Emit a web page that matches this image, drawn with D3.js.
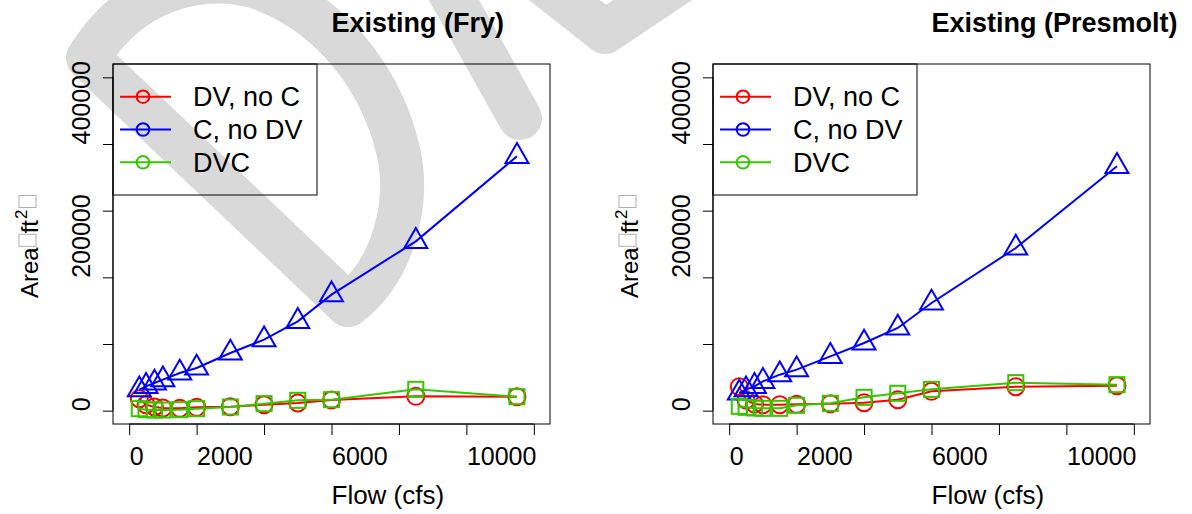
<!DOCTYPE html>
<html>
<head>
<meta charset="utf-8">
<script src="https://cdn.jsdelivr.net/npm/d3@7"></script>
<style>
 body { margin: 0; background: #fff; }
 svg { display: block; font-family: "Liberation Sans", Arial, sans-serif; }
</style>
</head>
<body>
<svg></svg>
<script>
//размер svg
const width = 1192;
const height = 514;

// данные: расход и площадь
const flows = [300, 500, 750, 1000, 1500, 2000, 3000, 4000, 5000, 6000, 8500, 11500];
const fryDVnoC = [18000, 9000, 5500, 4000, 3500, 5000, 6000, 9000, 11500, 16000, 21500, 21000];
const fryCnoDV = [31500, 36500, 41500, 46500, 56500, 64000, 86500, 106500, 134000, 174000, 254000, 381500];
const fryDVC = [3000, 1500, 1000, 1000, 1500, 3000, 5500, 10500, 15500, 16500, 32000, 21000];
const presDVnoC = [36000, 16000, 10000, 9000, 9000, 9500, 10500, 12000, 16500, 29000, 36000, 37500];
const presCnoDV = [26500, 31500, 36500, 44000, 54000, 61500, 81500, 101500, 124000, 161500, 244000, 366500];
const presDVC = [6500, 5000, 4000, 3500, 3500, 8000, 11000, 20000, 26000, 32000, 42000, 39000];

const panelTitles = ["Existing (Fry)", "Existing (Presmolt)"];
const seriesNames = ["DV, no C", "C, no DV", "DVC"];
const seriesColors = ["#ff0000", "#0000ff", "#33c800"];
const seriesSymbols = ["circle", "triangle", "square"];
const xTicks = [0, 2000, 4000, 6000, 8000, 10000, 12000];
const xTickLabels = ["0", "2000", "", "6000", "", "10000", ""];
const yTicks = [0, 100000, 200000, 300000, 400000, 500000];
const yTickLabels = ["0", "", "200000", "", "400000", ""];

let svg = d3.select("svg")
 .attr("width", width)
 .attr("height", height);

// водяной знак (серые полосы)
let mark = svg.append("g")
 .style("fill", "none")
 .style("stroke", "#d9d9d9")
 .style("stroke-width", 44)
 .style("stroke-linecap", "round")
 .style("stroke-linejoin", "round");
// буква D
mark.append("path")
 .attr("d", "M 88,58 L 348,305 C 395,270 410,200 398,150 C 385,95 345,20 260,-12 C 200,-30 130,-10 88,58 Z");
// остальные куски
mark.append("path").attr("d", "M 440,-25 L 520,118");
mark.append("path").attr("d", "M 520,-35 L 605,32 L 690,-25");

// рисуем одну панель
function drawPanel(offset, title, seriesData) {
 let left = 113 + offset, right = 550 + offset;
 let top = 64, bottom = 424;
 let x = d3.scaleLinear().domain([-480, 12480]).range([left, right]);
 let y = d3.scaleLinear().domain([-20000, 520000]).range([bottom, top]);

 let panel = svg.append("g");

 // серии: линия + символы
 seriesData.forEach((vals, k) => {
  let pts = flows.map((f, i) => ({x: x(f), y: y(vals[i])}));
  let line = d3.line().x(d => d.x).y(d => d.y);
  panel.append("path")
   .attr("d", line(pts))
   .style("fill", "none")
   .style("stroke", seriesColors[k])
   .style("stroke-width", 2);
  let g = panel.append("g")
   .style("fill", "none")
   .style("stroke", seriesColors[k])
   .style("stroke-width", 2);
  const s = 8.5;
  pts.forEach(p => {
   if (seriesSymbols[k] == "circle") {
    g.append("circle").attr("cx", p.x).attr("cy", p.y).attr("r", s);
   } else if (seriesSymbols[k] == "square") {
    let h = 0.886 * s;
    g.append("rect").attr("x", p.x - h).attr("y", p.y - h)
     .attr("width", 2 * h).attr("height", 2 * h);
   } else {
    let r = 1.555 * s, yc = 0.778 * s, xc = 1.347 * s;
    g.append("path")
     .attr("d", `M ${p.x},${p.y - r} L ${p.x + xc},${p.y + yc} L ${p.x - xc},${p.y + yc} Z`);
   }
  });
 });

 // рамка
 panel.append("rect")
  .attr("x", left).attr("y", top)
  .attr("width", right - left).attr("height", bottom - top)
  .style("fill", "none").style("stroke", "black").style("stroke-width", 1);

 // ось x
 let xAxis = panel.append("g")
  .attr("transform", `translate(0,${bottom})`)
  .call(d3.axisBottom(x).tickValues(xTicks).tickSize(11).tickSizeOuter(0)
   .tickFormat((d, i) => xTickLabels[i]));
 xAxis.select(".domain").remove();
 xAxis.append("line")
  .attr("x1", x(xTicks[0])).attr("x2", x(xTicks[xTicks.length - 1]))
  .style("stroke", "black");
 xAxis.selectAll("text")
  .attr("y", 41).attr("dy", null)
  .attr("text-anchor", "start")
  .style("font-size", "25px").style("fill", "black")
  .style("font-family", "Liberation Sans, Arial, sans-serif");

 // ось y
 let yAxis = panel.append("g")
  .attr("transform", `translate(${left},0)`)
  .call(d3.axisLeft(y).tickValues(yTicks).tickSize(10).tickSizeOuter(0)
   .tickFormat((d, i) => yTickLabels[i]));
 yAxis.select(".domain").remove();
 yAxis.append("line")
  .attr("y1", y(yTicks[0])).attr("y2", y(yTicks[yTicks.length - 1]))
  .style("stroke", "black");
 yAxis.selectAll("text")
  .attr("x", 0).attr("dy", null)
  .attr("transform", "translate(-23,0) rotate(-90)")
  .attr("text-anchor", "start")
  .style("font-size", "25px").style("fill", "black")
  .style("font-family", "Liberation Sans, Arial, sans-serif");

 // заголовок и подписи осей
 panel.append("text")
  .attr("x", (left + right) / 2).attr("y", 32)
  .style("font-size", "27px").style("font-weight", "bold")
  .text(title);
 panel.append("text")
  .attr("x", (left + right) / 2).attr("y", 504)
  .style("font-size", "26px")
  .text("Flow (cfs)");

 // подпись y с "квадратиками" вместо скобок
 let yl = panel.append("g")
  .attr("transform", `translate(${38 + offset},298) rotate(-90)`)
  .style("font-size", "24px");
 let t1 = yl.append("text").attr("x", 0).attr("y", 0).text("Area");
 let w1 = t1.node().getComputedTextLength();
 yl.append("rect")
  .attr("x", w1 + 1).attr("y", -19).attr("width", 12).attr("height", 17)
  .style("fill", "none").style("stroke", "#b0b0b0").style("stroke-width", 1);
 let t2 = yl.append("text").attr("x", w1 + 14).attr("y", 0).text("ft");
 let w2 = t2.node().getComputedTextLength();
 let t3 = yl.append("text").attr("x", w1 + 15 + w2).attr("y", -11)
  .style("font-size", "17px").text("2");
 let w3 = t3.node().getComputedTextLength();
 yl.append("rect")
  .attr("x", w1 + 17 + w2 + w3).attr("y", -19).attr("width", 12).attr("height", 17)
  .style("fill", "none").style("stroke", "#b0b0b0").style("stroke-width", 1);

 // легенда
 let leg = panel.append("g");
 leg.append("rect")
  .attr("x", left).attr("y", top).attr("width", 204).attr("height", 131)
  .style("fill", "none").style("stroke", "black").style("stroke-width", 1);
 seriesNames.forEach((name, k) => {
  let ry = top + 32.7 + k * 32.8;
  leg.append("line")
   .attr("x1", left + 7).attr("x2", left + 58)
   .attr("y1", ry).attr("y2", ry)
   .style("stroke", seriesColors[k]).style("stroke-width", 2);
  leg.append("circle")
   .attr("cx", left + 30).attr("cy", ry).attr("r", 6.3)
   .style("fill", "none")
   .style("stroke", seriesColors[k]).style("stroke-width", 2);
  leg.append("text")
   .attr("x", left + 80).attr("y", ry + 9.5)
   .style("font-size", "27px")
   .text(name);
 });
}

drawPanel(0, panelTitles[0], [fryDVnoC, fryCnoDV, fryDVC]);
drawPanel(600, panelTitles[1], [presDVnoC, presCnoDV, presDVC]);
</script>
</body>
</html>
